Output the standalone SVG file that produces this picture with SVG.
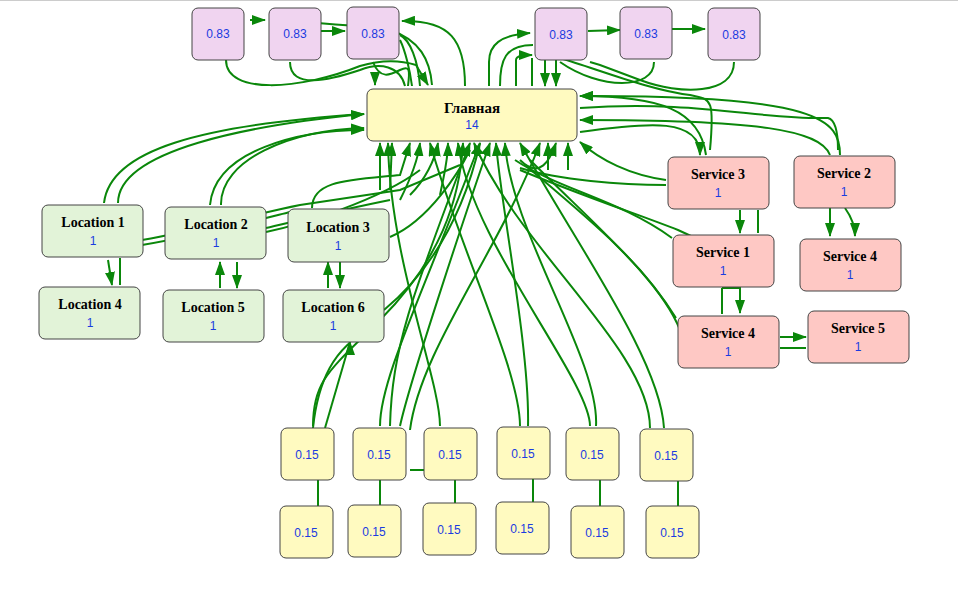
<svg xmlns="http://www.w3.org/2000/svg" width="958" height="597" viewBox="0 0 958 597">
<style>
.n rect{stroke:#444;stroke-width:1}
.p rect{fill:#f0d4f0}.m rect{fill:#fffac0}.l rect{fill:#e2f3d8}.s rect{fill:#fec8c4}.y rect{fill:#fffac0}
.t{font-family:"Liberation Serif",serif;font-weight:bold;font-size:14px;text-anchor:middle;fill:#000}
.v{font-family:"Liberation Sans",sans-serif;font-size:12px;text-anchor:middle;fill:#1a3be0}
#edges path{fill:none;stroke:#0a870a;stroke-width:2}
.a{marker-end:url(#ar)}
</style>
<defs><marker id="ar" viewBox="0 0 14 10" refX="13" refY="5" markerWidth="14" markerHeight="10" markerUnits="userSpaceOnUse" orient="auto"><path d="M0,0L14,5L0,10z" fill="#0a870a"/></marker></defs>
<rect width="958" height="597" fill="#fff"/>
<line x1="0" y1="0.5" x2="958" y2="0.5" stroke="#ccc"/>
<g id="edges">
<path class="a" d="M226,60 C226,95 300,90 360,66 C380,60 400,60 416,65 L428,85"/>
<path class="a" d="M250,20 L265,20"/>
<path class="a" d="M306,31 L345,31"/>
<path d="M303,22 C330,24 360,26 390,30 C420,40 430,60 432,85"/>
<path d="M290,62 C290,90 330,80 360,70 C380,62 400,66 405,86"/>
<path class="a" d="M375,75 L375,85"/>
<path d="M373,62 C380,80 390,75 400,70 C410,65 410,70 408,86"/>
<path d="M400,35 C410,40 418,60 420,86"/>
<path d="M400,40 C405,50 410,70 412,86"/>
<path class="a" d="M465,86 C465,40 450,20 402,21"/>
<path class="a" d="M489,86 L489,62 C489,45 500,35 530,33"/>
<path d="M500,86 C500,60 505,45 533,45"/>
<path class="a" d="M516,86 L516,60 C516,55 525,55 532,55"/>
<path d="M532,86 L532,58"/>
<path class="a" d="M545,60 L545,86"/>
<path class="a" d="M556,60 L556,86"/>
<path d="M560,58 C600,70 650,90 690,95 C710,100 715,95 710,150"/>
<path d="M654,62 C654,90 600,90 560,62"/>
<path d="M734,62 C734,95 680,95 640,80 L600,65 L590,62"/>
<path class="a" d="M588,31 L620,30"/>
<path class="a" d="M672,29 L705,29"/>
<path class="a" d="M840,155 C840,120 820,95 580,96"/>
<path d="M580,108 C700,100 760,120 828,118 C836,120 838,135 838,150"/>
<path class="a" d="M830,155 C820,130 760,120 580,120"/>
<path class="a" d="M580,132 C650,122 700,118 700,155"/>
<path class="a" d="M666,180 C630,175 600,160 580,142"/>
<path class="a" d="M706,155 C700,110 660,96 580,96"/>
<path class="a" d="M740,210 L740,233"/>
<path d="M758,210 L758,233"/>
<path class="a" d="M722,288 L740,288 L740,313"/>
<path d="M722,288 L722,314"/>
<path class="a" d="M830,208 L830,236"/>
<path class="a" d="M845,208 C850,215 855,225 855,236"/>
<path class="a" d="M780,337 L806,337"/>
<path d="M780,348 L806,348"/>
<path d="M520,168 C560,180 620,185 666,185"/>
<path d="M515,160 C560,190 620,200 672,238"/>
<path d="M520,170 C580,195 640,215 678,230 C700,240 710,245 710,250"/>
<path d="M525,165 C590,220 640,260 676,318"/>
<path d="M530,160 C600,230 660,280 680,330"/>
<path class="a" d="M104,203 C110,150 200,125 364,114"/>
<path class="a" d="M118,203 C118,150 250,125 364,114"/>
<path class="a" d="M221,205 C220,160 290,130 364,128"/>
<path class="a" d="M210,205 C215,150 300,130 364,130"/>
<path class="a" d="M312,208 C312,180 350,180 400,175 L410,143"/>
<path class="a" d="M108,260 L112,285"/>
<path d="M120,285 L120,258"/>
<path d="M142,240 C200,230 250,215 300,205 L400,190 L460,165"/>
<path d="M142,245 C200,235 250,222 290,212"/>
<path d="M266,228 C300,220 340,210 390,200"/>
<path d="M266,232 C300,225 380,200 420,170"/>
<path class="a" d="M220,288 L220,262"/>
<path class="a" d="M237,262 L237,288"/>
<path class="a" d="M328,288 L328,262"/>
<path class="a" d="M340,262 L340,288"/>
<path d="M390,237 C430,220 460,170 470,150"/>
<path class="a" d="M380,190 L380,143"/>
<path class="a" d="M390,190 L392,143"/>
<path class="a" d="M400,200 C410,180 418,160 420,143"/>
<path class="a" d="M410,195 C425,180 435,160 438,143"/>
<path class="a" d="M440,195 C445,170 448,160 448,143"/>
<path d="M384,310 C420,280 460,230 480,143"/>
<path class="a" d="M313,428 C320,360 350,345 350,342"/>
<path d="M325,428 L350,342"/>
<path class="a" d="M313,426 C313,380 330,370 380,320 C440,260 460,200 463,143"/>
<path class="a" d="M390,426 C392,350 410,300 470,143"/>
<path class="a" d="M380,426 C380,380 420,300 480,143"/>
<path class="a" d="M440,426 C440,380 390,260 388,143"/>
<path class="a" d="M400,426 C410,380 470,200 490,143"/>
<path class="a" d="M520,426 C520,370 460,250 430,143"/>
<path class="a" d="M528,426 C530,350 500,200 496,143"/>
<path class="a" d="M590,426 C590,380 470,240 458,143"/>
<path class="a" d="M596,426 C600,360 510,230 505,143"/>
<path class="a" d="M664,428 C660,360 580,250 520,143"/>
<path class="a" d="M650,428 C650,350 520,250 474,143"/>
<path class="a" d="M410,430 C420,350 500,250 540,143"/>
<path class="a" d="M520,160 C540,180 550,160 556,143"/>
<path class="a" d="M548,170 L548,143"/>
<path class="a" d="M568,170 L568,143"/>
<path d="M410,470 L424,470"/>
<path d="M318,480 L318,506"/>
<path d="M380,480 L380,505"/>
<path d="M455,480 L455,503"/>
<path d="M533,479 L533,502"/>
<path d="M600,480 L600,506"/>
<path d="M678,481 L678,506"/>
</g>
<g id="top1" class="n p"><rect x="192" y="8" width="52" height="52" rx="6"/><text class="v" x="218" y="38">0.83</text></g>
<g id="top2" class="n p"><rect x="269" y="8" width="52" height="52" rx="6"/><text class="v" x="295" y="38">0.83</text></g>
<g id="top3" class="n p"><rect x="347" y="7" width="52" height="52" rx="6"/><text class="v" x="373" y="38">0.83</text></g>
<g id="top4" class="n p"><rect x="535" y="8" width="52" height="52" rx="6"/><text class="v" x="561" y="39">0.83</text></g>
<g id="top5" class="n p"><rect x="620" y="7" width="52" height="52" rx="6"/><text class="v" x="646" y="38">0.83</text></g>
<g id="top6" class="n p"><rect x="708" y="8" width="52" height="52" rx="6"/><text class="v" x="734" y="39">0.83</text></g>
<g id="main" class="n m"><rect x="367" y="89" width="210" height="52" rx="6"/><text class="t" x="472" y="113" style="font-size:15px">Главная</text><text class="v" x="472" y="129">14</text></g>
<g id="loc1" class="n l"><rect x="42" y="205" width="101" height="52" rx="6"/><text class="t" x="93" y="227">Location 1</text><text class="v" x="93" y="245">1</text></g>
<g id="loc2" class="n l"><rect x="165" y="207" width="101" height="52" rx="6"/><text class="t" x="216" y="229">Location 2</text><text class="v" x="216" y="247">1</text></g>
<g id="loc3" class="n l"><rect x="288" y="209" width="101" height="53" rx="6"/><text class="t" x="338" y="232">Location 3</text><text class="v" x="338" y="250">1</text></g>
<g id="loc4" class="n l"><rect x="39" y="287" width="101" height="52" rx="6"/><text class="t" x="90" y="309">Location 4</text><text class="v" x="90" y="327">1</text></g>
<g id="loc5" class="n l"><rect x="163" y="290" width="101" height="52" rx="6"/><text class="t" x="213" y="312">Location 5</text><text class="v" x="213" y="330">1</text></g>
<g id="loc6" class="n l"><rect x="283" y="290" width="101" height="52" rx="6"/><text class="t" x="333" y="312">Location 6</text><text class="v" x="333" y="330">1</text></g>
<g id="svc3" class="n s"><rect x="668" y="157" width="101" height="52" rx="6"/><text class="t" x="718" y="179">Service 3</text><text class="v" x="718" y="197">1</text></g>
<g id="svc2" class="n s"><rect x="794" y="156" width="101" height="52" rx="6"/><text class="t" x="844" y="178">Service 2</text><text class="v" x="844" y="196">1</text></g>
<g id="svc1" class="n s"><rect x="673" y="235" width="101" height="52" rx="6"/><text class="t" x="723" y="257">Service 1</text><text class="v" x="723" y="275">1</text></g>
<g id="svc4b" class="n s"><rect x="800" y="239" width="101" height="52" rx="6"/><text class="t" x="850" y="261">Service 4</text><text class="v" x="850" y="279">1</text></g>
<g id="svc4" class="n s"><rect x="678" y="316" width="101" height="52" rx="6"/><text class="t" x="728" y="338">Service 4</text><text class="v" x="728" y="356">1</text></g>
<g id="svc5" class="n s"><rect x="808" y="311" width="101" height="52" rx="6"/><text class="t" x="858" y="333">Service 5</text><text class="v" x="858" y="351">1</text></g>
<g id="b1" class="n y"><rect x="281" y="428" width="53" height="52" rx="6"/><text class="v" x="307" y="459">0.15</text></g>
<g id="b2" class="n y"><rect x="353" y="428" width="53" height="52" rx="6"/><text class="v" x="379" y="459">0.15</text></g>
<g id="b3" class="n y"><rect x="424" y="428" width="53" height="52" rx="6"/><text class="v" x="450" y="459">0.15</text></g>
<g id="b4" class="n y"><rect x="497" y="427" width="53" height="52" rx="6"/><text class="v" x="523" y="458">0.15</text></g>
<g id="b5" class="n y"><rect x="566" y="428" width="53" height="52" rx="6"/><text class="v" x="592" y="459">0.15</text></g>
<g id="b6" class="n y"><rect x="640" y="429" width="53" height="52" rx="6"/><text class="v" x="666" y="460">0.15</text></g>
<g id="c1" class="n y"><rect x="280" y="506" width="53" height="52" rx="6"/><text class="v" x="306" y="537">0.15</text></g>
<g id="c2" class="n y"><rect x="348" y="505" width="53" height="52" rx="6"/><text class="v" x="374" y="536">0.15</text></g>
<g id="c3" class="n y"><rect x="423" y="503" width="53" height="52" rx="6"/><text class="v" x="449" y="534">0.15</text></g>
<g id="c4" class="n y"><rect x="496" y="502" width="53" height="52" rx="6"/><text class="v" x="522" y="533">0.15</text></g>
<g id="c5" class="n y"><rect x="571" y="506" width="53" height="52" rx="6"/><text class="v" x="597" y="537">0.15</text></g>
<g id="c6" class="n y"><rect x="646" y="506" width="53" height="52" rx="6"/><text class="v" x="672" y="537">0.15</text></g>
</svg>
